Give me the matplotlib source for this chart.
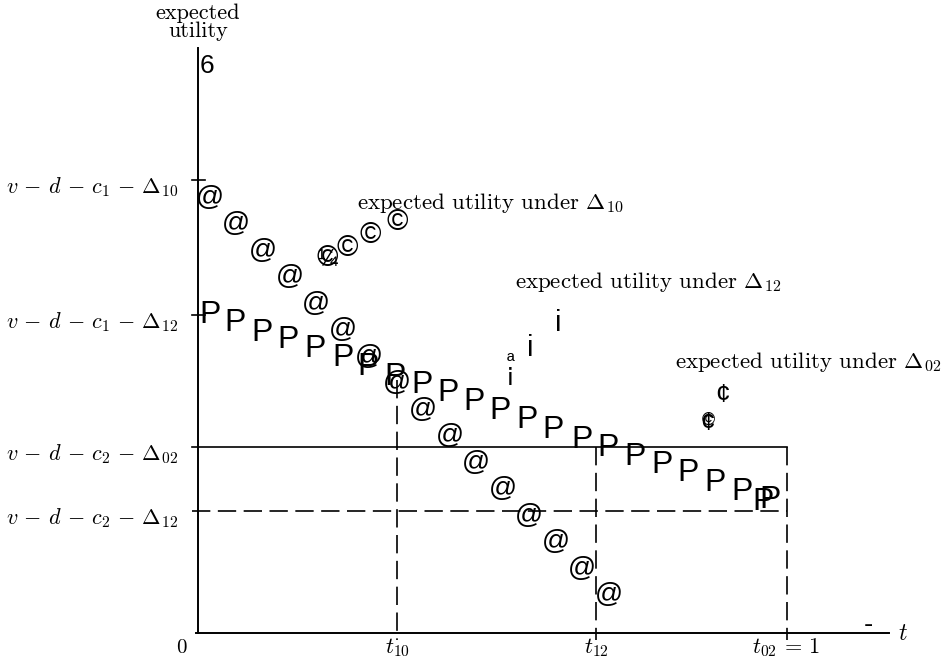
import matplotlib.pyplot as plt

plt.rcParams["mathtext.fontset"] = "cm"

SERIF = "cmr10"
GLYPH = "Liberation Sans"

# Levels marked on the utility axis
level_names = [
    r"$v\,-\,d\,-\,c_{\mathsf{1}}\,-\,\Delta_{\mathsf{10}}$",
    r"$v\,-\,d\,-\,c_{\mathsf{1}}\,-\,\Delta_{\mathsf{12}}$",
    r"$v\,-\,d\,-\,c_{\mathsf{2}}\,-\,\Delta_{\mathsf{02}}$",
    r"$v\,-\,d\,-\,c_{\mathsf{2}}\,-\,\Delta_{\mathsf{12}}$",
]
level_values = [0.769, 0.540, 0.316, 0.207]

# Thresholds marked on the t axis
t_names = [r"$t_{\mathsf{10}}$", r"$t_{\mathsf{12}}$", r"$t_{\mathsf{02}}\,=\,1$"]
t_values = [0.338, 0.676, 1.0]

# "@" marks: expected utility under Delta_10
at_t = [0.020, 0.065, 0.111, 0.156, 0.201, 0.246, 0.291, 0.337,
        0.382, 0.427, 0.472, 0.517, 0.562, 0.607, 0.652, 0.698]
at_u = [0.739, 0.694, 0.649, 0.604, 0.559, 0.514, 0.469, 0.424,
        0.379, 0.334, 0.289, 0.244, 0.199, 0.154, 0.109, 0.064]

# "P" marks: expected utility under Delta_12
p_t = [0.020, 0.063, 0.109, 0.153, 0.199, 0.246, 0.289, 0.334, 0.380,
       0.424, 0.469, 0.513, 0.559, 0.603, 0.652, 0.696, 0.742, 0.788,
       0.832, 0.878, 0.924, 0.959, 0.971]
p_u = [0.540, 0.526, 0.509, 0.497, 0.482, 0.467, 0.452, 0.435, 0.421,
       0.407, 0.392, 0.377, 0.362, 0.345, 0.328, 0.314, 0.299, 0.285,
       0.272, 0.255, 0.239, 0.222, 0.226]

# pointer marks next to the three labels
copy_t = [0.219, 0.253, 0.292, 0.338]
copy_u = [0.637, 0.654, 0.676, 0.698]
i_t = [0.564, 0.611]
i_u = [0.484, 0.526]
cent_t = [0.866, 0.890]
cent_u = [0.357, 0.404]

ann_text = [
    r"expected utility under $\Delta_{\mathsf{10}}$",
    r"expected utility under $\Delta_{\mathsf{12}}$",
    r"expected utility under $\Delta_{\mathsf{02}}$",
]
ann_t = [0.270, 0.538, 0.810]
ann_u = [0.730, 0.596, 0.460]

fig = plt.figure(figsize=(9.45, 6.64), dpi=100)
ax = fig.add_axes([0, 0, 1, 1])
ax.set_xlim(-0.3362, 1.2683)
ax.set_ylim(-0.0526, 1.0747)
ax.axis("off")

# axes
ax.plot([0, 0], [0, 0.993], color="black", lw=1.4)
ax.plot([-0.003, 1.173], [0, 0], color="black", lw=1.4)
ax.text(0, 1.037, "expected\nutility", family=SERIF, fontsize=16,
        ha="center", va="center", linespacing=0.95)
ax.text(0.003, 0.963, "6", family=GLYPH, fontsize=19, ha="left", va="center")
ax.text(1.139, 0.014, "-", family=GLYPH, fontsize=20, ha="center", va="center")
ax.text(1.197, 0.0, "$t$", fontsize=17, ha="center", va="center")
ax.text(-0.029, -0.025, "0", family=SERIF, fontsize=15, ha="center", va="center")

# level lines and labels
dash = (0, (11, 4.5))
ax.plot([-0.010, 0.012], [level_values[0]] * 2, color="black", lw=1.2)
ax.plot([-0.010, 0.012], [level_values[1]] * 2, color="black", lw=1.2)
ax.plot([-0.010, t_values[2]], [level_values[2]] * 2, color="black", lw=1.2)
ax.plot([-0.010, t_values[2]], [level_values[3]] * 2, color="black", lw=1.2, ls=dash)
for name, val in zip(level_names, level_values):
    ax.annotate(name, xy=(0, val), xytext=(-14, -5), textcoords="offset points",
                fontsize=16, ha="right", va="center")

# threshold lines and labels
ax.plot([t_values[0]] * 2, [0.430, -0.012], color="black", lw=1.2, ls=dash)
ax.plot([t_values[1]] * 2, [level_values[2], -0.012], color="black", lw=1.2, ls=dash)
ax.plot([t_values[2]] * 2, [level_values[2], -0.012], color="black", lw=1.2, ls=dash)
ax.text(t_values[0], -0.025, t_names[0], fontsize=16, ha="center", va="center")
ax.text(t_values[1], -0.025, t_names[1], fontsize=16, ha="center", va="center")
ax.text(t_values[2] - 0.060, -0.025, t_names[2], fontsize=16, ha="left", va="center")

# curve glyphs
for t, u in zip(at_t, at_u):
    ax.text(t, u, "@", family=GLYPH, fontsize=20, ha="center", va="center")
for t, u in zip(p_t, p_u):
    ax.text(t, u, "P", family=GLYPH, fontsize=23, ha="center", va="center")

# pointer glyphs
for t, u in zip(copy_t, copy_u):
    ax.text(t, u, "\u00a9", family=GLYPH, fontsize=21, ha="center", va="center")
ax.text(copy_t[0], copy_u[0] - 0.004, "\u00bc", family=GLYPH, fontsize=17,
        ha="center", va="center")
for t, u in zip(i_t, i_u):
    ax.text(t, u, "i", family=GLYPH, fontsize=21, ha="center", va="center")
ax.text(0.530, 0.460, "\u00aa", family=GLYPH, fontsize=15, ha="center", va="center")
ax.text(0.530, 0.440, "\u00a1", family=GLYPH, fontsize=19, ha="center", va="center")
for t, u in zip(cent_t, cent_u):
    ax.text(t, u, "\u00a2", family=GLYPH, fontsize=19, ha="center", va="center")
ax.text(cent_t[0], cent_u[0] + 0.004, "\u00a9", family=GLYPH, fontsize=13,
        ha="center", va="center")

for text, t, u in zip(ann_text, ann_t, ann_u):
    ax.text(t, u, text, family=SERIF, fontsize=16.5, ha="left", va="center")

fig.savefig("out.png", dpi=100)
print("Saved out.png")
